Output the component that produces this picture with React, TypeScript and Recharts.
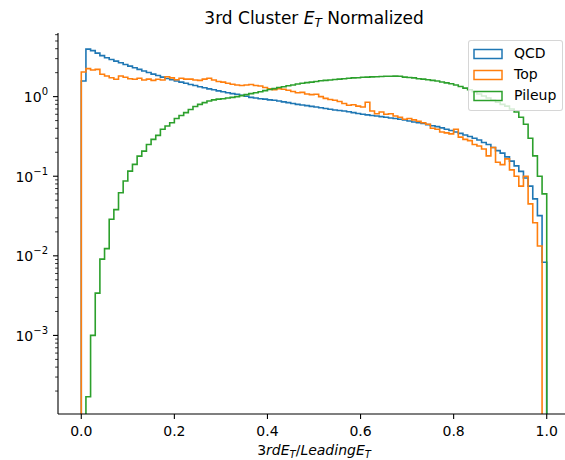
import React from 'react';
import { LineChart, Line, XAxis, YAxis, Legend } from 'recharts';

// 100 equal-width bins on [0, 1]; density-normalised histogram heights
const qcd = [
  1.57, 3.95, 3.78, 3.52, 3.27, 3.08, 2.93, 2.79, 2.66, 2.53,
  2.42, 2.31, 2.2, 2.1, 2.01, 1.92, 1.84, 1.76, 1.69, 1.63,
  1.57, 1.52, 1.47, 1.42, 1.38, 1.33, 1.29, 1.25, 1.22, 1.18,
  1.15, 1.12, 1.09, 1.07, 1.04, 1.01, 0.98, 0.96, 0.94, 0.93,
  0.91, 0.9, 0.88, 0.86, 0.84, 0.82, 0.8, 0.785, 0.77, 0.755,
  0.74, 0.725, 0.71, 0.695, 0.68, 0.67, 0.66, 0.645, 0.63, 0.615,
  0.6, 0.59, 0.58, 0.57, 0.56, 0.55, 0.54, 0.53, 0.52, 0.51,
  0.495, 0.48, 0.47, 0.46, 0.445, 0.43, 0.42, 0.405, 0.39, 0.375,
  0.36, 0.345, 0.33, 0.315, 0.3, 0.285, 0.265, 0.25, 0.23, 0.21,
  0.195, 0.175, 0.155, 0.135, 0.115, 0.095, 0.075, 0.052, 0.032, 0.0083,
];

const top = [
  2.04, 2.25, 2.16, 2.2, 1.91, 1.82, 1.73, 1.65, 1.82, 1.75,
  1.68, 1.65, 1.7, 1.62, 1.66, 1.6, 1.65, 1.62, 1.78, 1.72,
  1.63, 1.7, 1.66, 1.66, 1.62, 1.6, 1.66, 1.7, 1.62, 1.55,
  1.52, 1.47, 1.43, 1.4, 1.38, 1.4, 1.42, 1.38, 1.36, 1.3,
  1.25, 1.22, 1.26, 1.24, 1.2, 1.16, 1.12, 1.13, 1.08, 1.06,
  1.07, 1.0, 0.95, 0.92, 0.9, 0.87, 0.82, 0.78, 0.79, 0.76,
  0.74, 0.85, 0.66, 0.61, 0.64, 0.6, 0.61, 0.57, 0.55, 0.52,
  0.53, 0.51, 0.49, 0.47, 0.45, 0.4, 0.39, 0.36, 0.35, 0.34,
  0.39, 0.31, 0.29, 0.28, 0.25, 0.24, 0.22, 0.18, 0.23, 0.15,
  0.14, 0.165, 0.12, 0.1, 0.075, 0.1, 0.045, 0.026, 0.0133, 0,
];

const pileup = [
  0, 0.00017, 0.001, 0.0034, 0.0091, 0.0123, 0.0288, 0.038, 0.062, 0.087,
  0.116, 0.141, 0.179, 0.207, 0.25, 0.29, 0.326, 0.39, 0.427, 0.47,
  0.53, 0.58, 0.63, 0.69, 0.75, 0.8, 0.84, 0.88, 0.91, 0.93,
  0.94, 0.96, 0.98, 1.0, 1.03, 1.06, 1.09, 1.12, 1.15, 1.19,
  1.23, 1.26, 1.3, 1.33, 1.37, 1.4, 1.44, 1.47, 1.5, 1.52,
  1.55, 1.58, 1.6, 1.62, 1.64, 1.66, 1.68, 1.7, 1.72, 1.73,
  1.75, 1.76, 1.77, 1.78, 1.79, 1.8, 1.8, 1.81, 1.8, 1.76,
  1.74, 1.72, 1.68, 1.66, 1.63, 1.6, 1.57, 1.53, 1.49, 1.45,
  1.4, 1.34, 1.28, 1.22, 1.15, 1.08, 1.02, 0.96, 0.9, 0.85,
  0.8, 0.76, 0.7, 0.64, 0.55, 0.45, 0.3, 0.18, 0.1, 0.06,
];

const seriesKeys = ['qcd', 'top', 'pileup'];
const seriesNames = ['QCD', 'Top', 'Pileup'];
const seriesColors = ['#1f77b4', '#ff7f0e', '#2ca02c'];

const xTicks = [0, 0.2, 0.4, 0.6, 0.8, 1.0];
const xTickLabels = ['0.0', '0.2', '0.4', '0.6', '0.8', '1.0'];
const yMajorTicks = [0.001, 0.01, 0.1, 1];
const yMajorExponents = ['\u22123', '\u22122', '\u22121', '0'];
const yMinorTicks = [
  0.0002, 0.0003, 0.0004, 0.0005, 0.0006, 0.0007, 0.0008, 0.0009,
  0.002, 0.003, 0.004, 0.005, 0.006, 0.007, 0.008, 0.009,
  0.02, 0.03, 0.04, 0.05, 0.06, 0.07, 0.08, 0.09,
  0.2, 0.3, 0.4, 0.5, 0.6, 0.7, 0.8, 0.9,
  2, 3, 4, 5, 6,
];

const BIN_COUNT = 100;
const FLOOR = 1e-7; // stands in for empty bins (log scale cannot show 0)
const Y_DOMAIN = [1.03e-4, 6.3];
const X_DOMAIN = [-0.05, 1.05];

const series = [qcd, top, pileup];
const rowAt = (x: number, idx: number | null) => {
  const r: any = { x };
  seriesKeys.forEach((k, s) => {
    const v = idx === null ? 0 : series[s][idx];
    r[k] = v > 0 ? v : FLOOR;
  });
  return r;
};
const data: any[] = [rowAt(0, null)];
for (let i = 0; i < BIN_COUNT; i++) data.push(rowAt(i / BIN_COUNT, i));
data.push(rowAt(1, null));

const FONT = '"DejaVu Sans", sans-serif';

const XTick = (props: any) => {
  const { x, y, payload } = props;
  const idx = xTicks.indexOf(payload.value);
  return (
    <g>
      <line x1={x} x2={x} y1={y} y2={y + 5} stroke="#000" strokeWidth={1.1} />
      <text x={x} y={y + 22} textAnchor="middle" fontSize={14} fontFamily={FONT} fill="#000">
        {idx >= 0 ? xTickLabels[idx] : ''}
      </text>
    </g>
  );
};

const YTick = (props: any) => {
  const { x, y, payload } = props;
  const mi = yMajorTicks.findIndex((t) => Math.abs(t - payload.value) / t < 1e-6);
  if (mi < 0) {
    return <line x1={x - 2.9} x2={x} y1={y} y2={y} stroke="#000" strokeWidth={0.8} />;
  }
  return (
    <g>
      <line x1={x - 5} x2={x} y1={y} y2={y} stroke="#000" strokeWidth={1.1} />
      <text x={x - 10} y={y + 5.5} textAnchor="end" fontSize={14} fontFamily={FONT} fill="#000">
        <tspan>10</tspan>
        <tspan fontSize={10} dy={-7}>{yMajorExponents[mi]}</tspan>
      </text>
    </g>
  );
};

const LegendBox = () => (
  <div
    style={{
      width: 93,
      height: 67,
      boxSizing: 'content-box',
      border: '1px solid rgba(204,204,204,0.8)',
      borderRadius: 3,
      background: 'rgba(255,255,255,0.8)',
      paddingTop: 2,
      fontFamily: FONT,
      fontSize: 14,
      color: '#000',
    }}
  >
    {seriesNames.map((n, i) => (
      <div key={n} style={{ height: 21, display: 'flex', alignItems: 'center', paddingLeft: 4 }}>
        <svg width={30} height={12} style={{ display: 'block' }}>
          <rect x={1} y={1.5} width={28} height={9} fill="none" stroke={seriesColors[i]} strokeWidth={1.5} />
        </svg>
        <span style={{ marginLeft: 11, lineHeight: '21px' }}>{n}</span>
      </div>
    ))}
  </div>
);

export default function App() {
  return (
    <div style={{ position: 'absolute', left: 0, top: 0, width: 565, height: 460, overflow: 'hidden', background: '#fff' }}>
      <LineChart
        width={600}
        height={460}
        data={data}
        margin={{ top: 33, right: 30, bottom: 0, left: 0 }}
      >
        <XAxis
          dataKey="x"
          type="number"
          domain={X_DOMAIN}
          allowDataOverflow
          ticks={xTicks}
          interval={0}
          height={46}
          tickSize={0}
          tickMargin={0}
          tickLine={false}
          tick={<XTick />}
          axisLine={{ stroke: '#000', strokeWidth: 1.1 }}
        />
        <XAxis
          xAxisId="frame"
          orientation="top"
          dataKey="x"
          type="number"
          domain={X_DOMAIN}
          allowDataOverflow
          height={0}
          tick={false}
          tickLine={false}
          axisLine={{ stroke: '#000', strokeWidth: 1.1 }}
        />
        <YAxis
          type="number"
          scale="log"
          domain={Y_DOMAIN}
          allowDataOverflow
          ticks={[...yMinorTicks, ...yMajorTicks]}
          interval={0}
          width={58}
          tickSize={0}
          tickMargin={0}
          tickLine={false}
          tick={<YTick />}
          axisLine={{ stroke: '#000', strokeWidth: 1.1 }}
        />
        {seriesKeys.map((k, i) => (
          <Line
            key={k}
            type="stepAfter"
            dataKey={k}
            name={seriesNames[i]}
            stroke={seriesColors[i]}
            strokeWidth={1.6}
            dot={false}
            activeDot={false}
            isAnimationActive={false}
          />
        ))}
        <Legend
          layout="horizontal"
          verticalAlign="middle"
          align="center"
          wrapperStyle={{ position: 'absolute', left: 468, top: 40, width: 95, height: 69 }}
          content={<LegendBox />}
        />
      </LineChart>
      <svg width={565} height={460} style={{ position: 'absolute', left: 0, top: 0, pointerEvents: 'none' }}>
        <text x={314} y={24} textAnchor="middle" fontSize={17} fontFamily={FONT} fill="#000">
          <tspan>3rd Cluster </tspan>
          <tspan fontStyle="italic">E</tspan>
          <tspan fontStyle="italic" fontSize={12} dy={3}>T</tspan>
          <tspan dy={-3}> Normalized</tspan>
        </text>
        <text x={314} y={455} textAnchor="middle" fontSize={14} fontFamily={FONT} fill="#000">
          <tspan>3</tspan>
          <tspan fontStyle="italic">rdE</tspan>
          <tspan fontStyle="italic" fontSize={10} dy={2.5}>T</tspan>
          <tspan dy={-2.5}>/</tspan>
          <tspan fontStyle="italic">LeadingE</tspan>
          <tspan fontStyle="italic" fontSize={10} dy={2.5}>T</tspan>
        </text>
      </svg>
    </div>
  );
}
